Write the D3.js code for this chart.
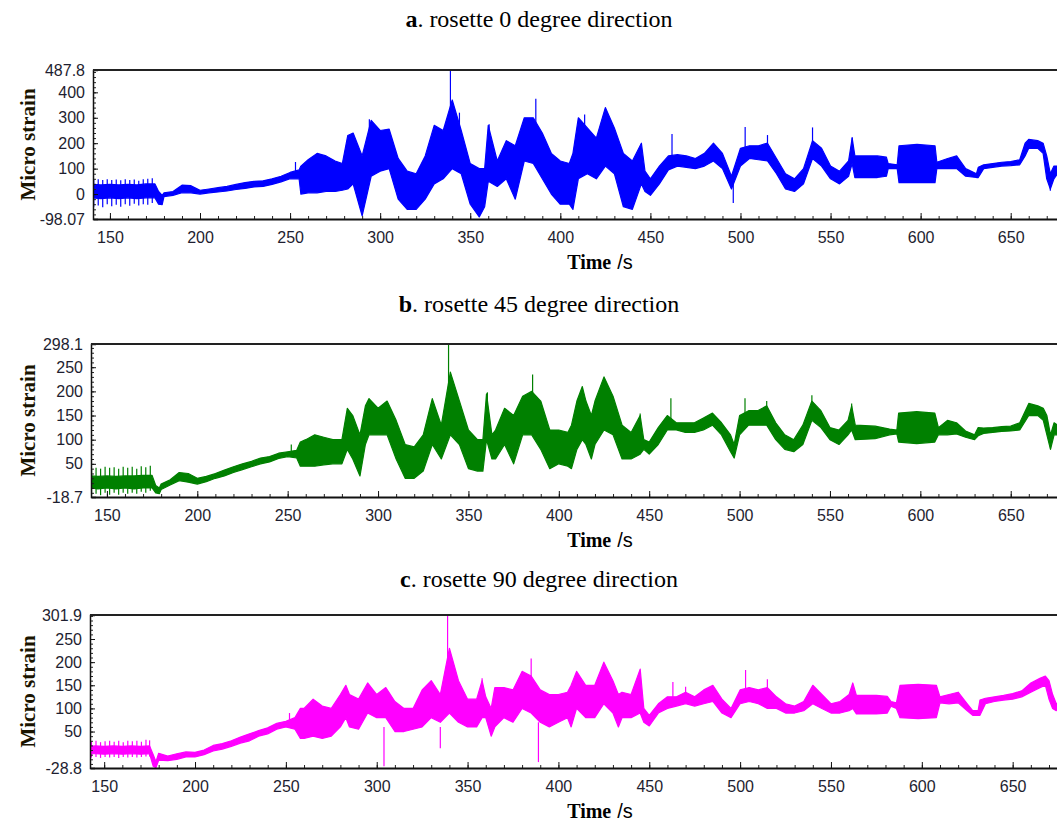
<!DOCTYPE html>
<html>
<head>
<meta charset="utf-8">
<script src="https://cdn.jsdelivr.net/npm/d3@7"></script>
<style>
  body { margin: 0; background: #fff; }
  svg { display: block; }
</style>
</head>
<body>
<div id="chart"></div>
<script>
// envelope of each strain record: [time s, low, high]
const envA = [
  [140, -15, 38], [145, -18, 36], [150, -15, 38], [155, -18, 36], [160, -15, 38],
  [165, -18, 36], [170, -15, 40], [175, -15, 40], [177, -40, 10], [179, -42, -5],
  [180, -10, 5], [185, -5, 10], [190, 5, 35], [195, 5, 33], [200, 0, 15],
  [205, 5, 20], [210, 8, 25], [215, 12, 30], [220, 18, 38], [225, 22, 45],
  [230, 28, 50], [235, 30, 52], [240, 38, 60], [245, 48, 70], [250, 60, 85],
  [255, 60, 95], [256, 0, 110], [260, 5, 135], [265, 5, 160], [270, 10, 150],
  [275, 10, 130], [279, 15, 120], [282, 20, 230], [285, 40, 240], [290, -86, 150],
  [295, 70, 290], [300, 90, 250], [305, 100, 255], [310, -20, 140], [315, -60, 90],
  [320, -60, 80], [325, -20, 150], [330, 40, 270], [335, 60, 250], [340, 100, 370],
  [345, 80, 250], [350, -40, 120], [355, -90, 100], [358, -50, 100], [360, 50, 270],
  [365, 30, 130], [370, 60, 210], [375, -20, 190], [380, 130, 300], [385, 120, 300],
  [390, 60, 240], [395, 0, 160], [400, -40, 130], [405, -40, 120], [407, -60, 160],
  [410, 60, 300], [415, 80, 260], [420, 60, 220], [425, 110, 340], [430, 80, 260],
  [435, -50, 160], [440, -60, 130], [445, 40, 200], [447, 10, 90], [450, -5, 60],
  [455, 40, 110], [460, 95, 150], [465, 110, 155], [470, 105, 150], [475, 100, 140],
  [480, 110, 160], [485, 130, 200], [490, 100, 160], [495, 20, 70], [500, 110, 180],
  [505, 140, 190], [510, 135, 190], [515, 130, 200], [520, 80, 140], [525, 20, 80],
  [530, 10, 60], [535, 40, 100], [540, 140, 210], [545, 110, 180], [550, 60, 110],
  [555, 40, 90], [560, 70, 130], [562, 120, 220], [563.5, 65, 150], [570, 65, 150],
  [576, 65, 150], [581, 70, 145], [582, 100, 120], [587, 100, 115], [588, 45, 190],
  [598, 45, 195], [608, 45, 190], [609, 100, 125], [615, 100, 140], [620, 100, 150],
  [625, 70, 100], [631, 65, 80], [632, 65, 105], [635, 100, 115], [640, 105, 120],
  [645, 110, 125], [650, 112, 128], [655, 115, 135], [658, 150, 200], [660, 180, 215],
  [665, 180, 210], [668, 160, 200], [670, 60, 150], [672, 20, 80], [674, 60, 110],
  [676, 80, 110]
];
const envB = [
  [141, 0, 25], [145, -2, 24], [150, 0, 25], [155, -2, 24], [160, 0, 25],
  [165, -2, 25], [170, 0, 26], [175, 0, 26], [177, -10, 5], [179, -12, 0],
  [180, -3, 8], [185, 6, 17], [190, 15, 32], [195, 12, 30], [200, 8, 20],
  [205, 13, 24], [210, 20, 30], [215, 25, 37], [220, 32, 44], [225, 38, 50],
  [230, 44, 55], [235, 50, 62], [240, 54, 65], [245, 61, 72], [250, 65, 75],
  [255, 62, 78], [257, 45, 95], [260, 45, 100], [265, 45, 110], [270, 48, 105],
  [275, 50, 100], [280, 50, 100], [283, 80, 165], [286, 60, 150], [290, 25, 110],
  [293, 90, 170], [295, 110, 185], [300, 110, 165], [305, 110, 180], [310, 60, 140],
  [315, 20, 90], [320, 20, 85], [325, 35, 110], [330, 90, 185], [335, 60, 130],
  [340, 110, 240], [345, 90, 180], [350, 40, 120], [355, 35, 100], [358, 35, 100],
  [360, 100, 195], [363, 60, 110], [365, 60, 120], [370, 90, 165], [375, 50, 150],
  [380, 110, 190], [385, 110, 200], [390, 80, 180], [395, 40, 120], [400, 50, 120],
  [405, 45, 115], [407, 40, 130], [410, 80, 180], [413, 100, 210], [415, 90, 180],
  [418, 60, 150], [420, 90, 180], [425, 120, 230], [430, 110, 190], [435, 60, 130],
  [440, 60, 115], [445, 70, 150], [447, 80, 100], [450, 70, 95], [455, 90, 125],
  [460, 120, 150], [465, 120, 135], [470, 115, 135], [475, 115, 135], [480, 120, 145],
  [485, 130, 155], [490, 110, 135], [495, 75, 110], [497, 62, 90], [500, 110, 150],
  [505, 130, 160], [510, 130, 160], [515, 130, 170], [520, 100, 135], [525, 80, 110],
  [530, 75, 100], [535, 90, 130], [540, 140, 180], [545, 125, 160], [550, 100, 125],
  [555, 90, 120], [560, 110, 140], [562, 120, 170], [564, 100, 130], [575, 102, 128],
  [583, 110, 122], [587, 112, 120], [588, 95, 155], [598, 92, 158], [608, 95, 155],
  [610, 110, 125], [615, 110, 140], [620, 112, 135], [625, 105, 118], [630, 100, 110],
  [632, 108, 125], [635, 113, 124], [640, 115, 125], [645, 117, 127], [650, 118, 128],
  [655, 120, 135], [660, 150, 175], [665, 150, 170], [668, 140, 165], [670, 110, 150],
  [672, 80, 110], [674, 110, 135], [676, 110, 130]
];
const envC = [
  [142, 2, 18], [145, 2, 19], [150, 1, 18], [155, 2, 19], [160, 1, 18],
  [165, 2, 19], [170, 1, 18], [175, 2, 19], [177, -25, 0], [178.5, -28, -15],
  [180, -12, 3], [185, -13, -3], [190, -10, 2], [195, -5, 6], [200, -5, 5],
  [205, 0, 10], [210, 8, 20], [215, 12, 24], [220, 18, 30], [225, 25, 38],
  [230, 30, 45], [235, 40, 52], [240, 45, 58], [245, 55, 68], [250, 60, 72],
  [255, 55, 80], [258, 35, 100], [260, 35, 100], [265, 40, 120], [270, 35, 105],
  [275, 40, 100], [280, 60, 130], [283, 80, 150], [285, 60, 130], [290, 55, 120],
  [295, 90, 155], [300, 80, 130], [305, 80, 145], [310, 50, 115], [315, 50, 100],
  [320, 55, 100], [325, 60, 140], [330, 80, 160], [335, 70, 130], [340, 90, 230],
  [345, 70, 160], [350, 60, 120], [355, 60, 120], [358, 80, 160], [360, 80, 125],
  [363, 40, 100], [365, 60, 145], [370, 80, 145], [375, 70, 140], [380, 100, 180],
  [385, 90, 170], [390, 70, 140], [395, 60, 130], [400, 70, 130], [405, 80, 135],
  [407, 60, 150], [410, 100, 180], [415, 80, 150], [420, 80, 150], [425, 110, 200],
  [430, 90, 160], [433, 60, 130], [435, 80, 135], [440, 80, 130], [445, 90, 185],
  [447, 70, 100], [450, 62, 85], [455, 90, 110], [460, 100, 125], [465, 105, 125],
  [470, 110, 135], [475, 105, 125], [480, 110, 140], [485, 115, 150], [490, 90, 120],
  [495, 80, 100], [500, 110, 140], [505, 115, 145], [510, 110, 140], [515, 100, 145],
  [520, 100, 125], [525, 90, 110], [530, 90, 105], [535, 95, 115], [540, 110, 150],
  [545, 100, 130], [550, 90, 110], [555, 90, 115], [560, 95, 130], [562, 100, 155],
  [564, 88, 128], [575, 88, 128], [581, 90, 126], [583, 105, 115], [586, 100, 112],
  [588, 80, 150], [598, 78, 152], [608, 80, 150], [610, 112, 125], [615, 110, 130],
  [620, 112, 135], [625, 95, 110], [628, 85, 95], [631, 85, 95], [632, 85, 118],
  [635, 110, 122], [640, 115, 125], [645, 118, 128], [650, 120, 132], [655, 125, 138],
  [660, 135, 155], [665, 145, 165], [668, 150, 170], [670, 120, 160], [672, 100, 130],
  [674, 95, 110], [675, 100, 112]
];

// isolated spikes and the comb at the start: [time, from, to]
const spikesA = [
  [141, -50, 55], [143.5, -45, 58], [146, -52, 55], [148.5, -40, 58], [151, -48, 55],
  [153.5, -42, 57], [156, -50, 54], [158.5, -40, 58], [161, -46, 55], [163.5, -38, 57],
  [166, -45, 52], [168.5, -40, 58], [171, -42, 60], [173.5, -35, 62],
  [253, 80, 126], [294, 200, 294], [339, 200, 487.8], [344, 200, 320], [360.5, 150, 274],
  [386.4, 250, 375], [413.5, 200, 313], [462, 150, 236], [496, 60, -35], [502.6, 180, 264],
  [515, 190, 232], [540, 200, 262], [562, 200, 223], [672, 60, 13]];
const spikesB = [
  [141.5, -15, 40], [144, -12, 42], [146.5, -15, 40], [149, -10, 44], [151.5, -14, 42],
  [154, -10, 43], [156.5, -14, 40], [159, -10, 44], [161.5, -12, 42], [164, -10, 44],
  [166.5, -12, 40], [169, -8, 45], [171.5, -10, 43], [174, -6, 46],
  [252, 70, 90], [339, 150, 298.1], [360.5, 120, 198], [385.5, 150, 235], [445, 100, 154],
  [462, 130, 186], [503, 140, 186], [515, 150, 180], [540, 160, 192], [562, 140, 175], [672, 100, 82]];
const spikesC = [
  [143, -6, 28], [145.5, -5, 30], [148, -7, 27], [150.5, -5, 29], [153, -6, 30],
  [155.5, -5, 28], [158, -7, 30], [160.5, -5, 27], [163, -6, 30], [165.5, -5, 29],
  [168, -6, 30], [170.5, -5, 28], [173, -4, 32], [175, -4, 31],
  [252, 60, 90], [304, 60, -25], [335, 60, 14], [339, 150, 301.9], [358, 100, 165],
  [389, 70, -16], [385, 150, 208], [463, 110, 157], [470, 120, 147], [503, 120, 183], [515, 120, 163]];

const xDomainA = [140.6, 675.7], xDomainB = [141.2, 675.6], xDomainC = [142.2, 674.4];
const yDomainA = [-98.07, 487.8], yDomainB = [-18.7, 298.1], yDomainC = [-28.8, 301.9];
const yTicksA = [-98.07, 0, 100, 200, 300, 400, 487.8];
const yTicksB = [-18.7, 50, 100, 150, 200, 250, 298.1];
const yTicksC = [-28.8, 50, 100, 150, 200, 250, 301.9];
const xTicks = [150, 200, 250, 300, 350, 400, 450, 500, 550, 600, 650];
const letters = ["a", "b", "c"];
const titles = [". rosette 0 degree direction", ". rosette 45 degree direction", ". rosette 90 degree direction"];

const W = 1057, H = 823;
const serif = "'Liberation Serif', 'Times New Roman', serif";
const sans = "'Liberation Sans', Arial, sans-serif";

const svg = d3.select("#chart").append("svg")
  .attr("width", W)
  .attr("height", H);

const panels = [
  {env: envA, spikes: spikesA, xd: xDomainA, yd: yDomainA, yt: yTicksA, minor: 20, color: "#0000ff",
   left: 93, top: 70, bottom: 219, titleY: 27},
  {env: envB, spikes: spikesB, xd: xDomainB, yd: yDomainB, yt: yTicksB, minor: 10, color: "#008000",
   left: 91, top: 344, bottom: 497, titleY: 312},
  {env: envC, spikes: spikesC, xd: xDomainC, yd: yDomainC, yt: yTicksC, minor: 10, color: "#ff00ff",
   left: 90, top: 615, bottom: 768, titleY: 587}
];

panels.forEach(function(p, i) {
  let x = d3.scaleLinear().domain(p.xd).range([p.left, W]);
  let y = d3.scaleLinear().domain(p.yd).range([p.bottom, p.top]);

  // title
  let t = svg.append("text")
    .attr("x", 539).attr("y", p.titleY)
    .attr("text-anchor", "middle")
    .style("font-family", serif).style("font-size", "24px");
  t.append("tspan").style("font-weight", "bold").text(letters[i]);
  t.append("tspan").text(titles[i]);

  svg.append("clipPath").attr("id", "clip" + i)
    .append("rect")
    .attr("x", p.left).attr("y", p.top)
    .attr("width", W - p.left).attr("height", p.bottom - p.top);

  let g = svg.append("g").attr("clip-path", `url(#clip${i})`);

  let area = d3.area()
    .x(d => x(d[0]))
    .y0(d => y(d[1]))
    .y1(d => y(d[2]));

  g.append("path")
    .datum(p.env)
    .attr("d", area)
    .attr("fill", p.color)
    .attr("stroke", p.color)
    .attr("stroke-width", 1.2)
    .attr("stroke-linejoin", "round");

  g.selectAll("line.spike").data(p.spikes).enter()
    .append("line")
    .attr("class", "spike")
    .attr("x1", d => x(d[0])).attr("x2", d => x(d[0]))
    .attr("y1", d => y(d[1])).attr("y2", d => y(d[2]))
    .attr("stroke", p.color)
    .attr("stroke-width", 1.2);

  // minor ticks (inside)
  let yMinor = d3.range(Math.ceil(p.yd[0] / p.minor) * p.minor, p.yd[1], p.minor);
  svg.append("g")
    .attr("transform", `translate(${p.left},0)`)
    .call(d3.axisLeft(y).tickValues(yMinor).tickSize(-3).tickFormat(""))
    .call(a => a.select(".domain").remove())
    .selectAll("line").attr("stroke", "#222");

  let xMinor = d3.range(150, p.xd[1], 10);
  svg.append("g")
    .attr("transform", `translate(0,${p.bottom})`)
    .call(d3.axisBottom(x).tickValues(xMinor).tickSize(-3).tickFormat(""))
    .call(a => a.select(".domain").remove())
    .selectAll("line").attr("stroke", "#222");

  // major axes
  let yAxis = svg.append("g")
    .attr("transform", `translate(${p.left},0)`)
    .call(d3.axisLeft(y).tickValues(p.yt).tickSize(-5).tickPadding(8).tickFormat(d => String(d)));
  yAxis.select(".domain").attr("stroke", "#111").attr("stroke-width", 1.5);
  yAxis.selectAll("line").attr("stroke", "#111");
  yAxis.selectAll("text")
    .style("font-family", sans).style("font-size", "16px").attr("fill", "#1e1e30");

  let xAxis = svg.append("g")
    .attr("transform", `translate(0,${p.bottom})`)
    .call(d3.axisBottom(x).tickValues(xTicks).tickSize(-6).tickPadding(13).tickSizeOuter(0));
  xAxis.select(".domain").attr("stroke", "#111").attr("stroke-width", 2);
  xAxis.selectAll("line").attr("stroke", "#111");
  xAxis.selectAll("text")
    .style("font-family", sans).style("font-size", "16px").attr("fill", "#1e1e30");

  // top frame line
  svg.append("line")
    .attr("x1", p.left).attr("x2", W)
    .attr("y1", p.top).attr("y2", p.top)
    .attr("stroke", "#222").attr("stroke-width", 2);

  // axis titles
  let xt = svg.append("text")
    .attr("x", 600).attr("y", p.bottom + 50)
    .attr("text-anchor", "middle");
  xt.append("tspan").style("font-family", serif).style("font-weight", "bold").style("font-size", "20px").text("Time");
  xt.append("tspan").style("font-family", sans).style("font-size", "20px").attr("dx", 6).text("/s");

  svg.append("text")
    .attr("transform", `translate(35,${(p.top + p.bottom) / 2}) rotate(-90)`)
    .attr("text-anchor", "middle")
    .style("font-family", serif).style("font-weight", "bold").style("font-size", "21px")
    .attr("fill", "#1a1400")
    .text("Micro strain");
});
</script>
</body>
</html>
